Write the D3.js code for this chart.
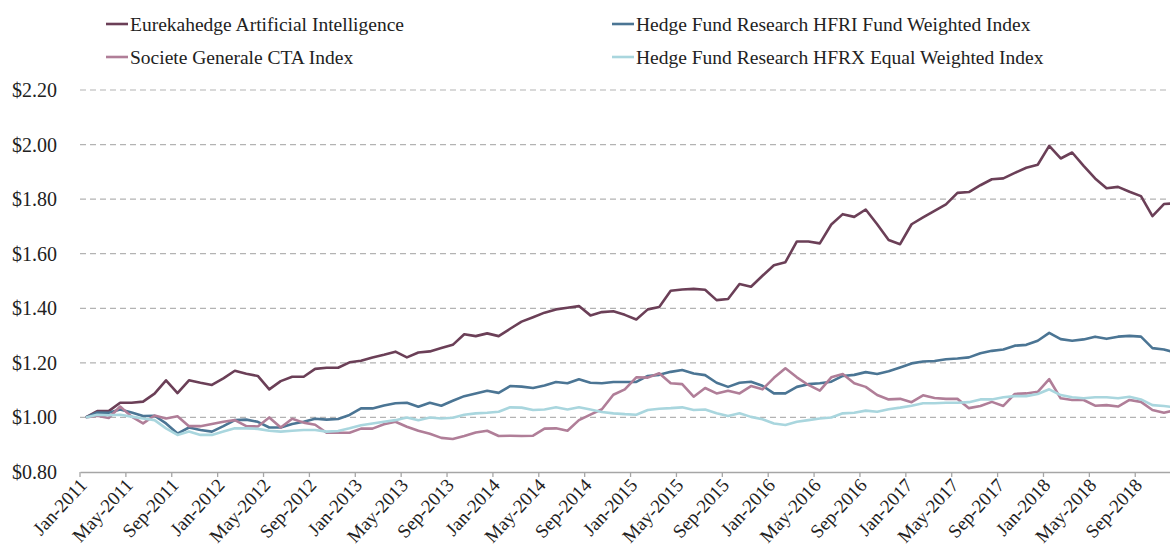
<!DOCTYPE html>
<html>
<head>
<meta charset="utf-8">
<script src="https://cdn.jsdelivr.net/npm/d3@7"></script>
<style>
  body { margin: 0; background: #fff; }
  text { font-family: "Liberation Serif", "DejaVu Serif", serif; fill: #222; }
</style>
</head>
<body>
<svg id="chart" width="1170" height="559"></svg>
<script>
// Monthly index values, Jan-2011 .. Dec-2018
const startMonth = new Date(2011, 0, 1);
const monthCount = 96;

const eurekahedge = [
  1.000, 1.023, 1.023, 1.054, 1.054, 1.058, 1.087, 1.136, 1.089, 1.136, 1.127, 1.119,
  1.143, 1.171, 1.160, 1.152, 1.103, 1.133, 1.149, 1.149, 1.178, 1.182, 1.182, 1.202,
  1.208, 1.220, 1.230, 1.241, 1.220, 1.238, 1.242, 1.254, 1.266, 1.305, 1.298, 1.308,
  1.298, 1.325, 1.351, 1.367, 1.384, 1.396, 1.402, 1.408, 1.374, 1.386, 1.389, 1.376,
  1.359, 1.396, 1.405, 1.464, 1.469, 1.471, 1.468, 1.430, 1.434, 1.489, 1.479, 1.519,
  1.558, 1.569, 1.645, 1.645, 1.638, 1.707, 1.745, 1.735, 1.762, 1.708, 1.650, 1.635,
  1.708, 1.733, 1.757, 1.781, 1.823, 1.826, 1.851, 1.873, 1.876, 1.896, 1.915, 1.926,
  1.995, 1.949, 1.971, 1.922, 1.876, 1.840, 1.845, 1.827, 1.811, 1.738, 1.782, 1.785
];

const hfriFundWeighted = [
  1.000, 1.018, 1.017, 1.029, 1.018, 1.005, 1.006, 0.978, 0.941, 0.963, 0.954, 0.948,
  0.968, 0.990, 0.992, 0.984, 0.963, 0.963, 0.976, 0.984, 0.995, 0.992, 0.994, 1.009,
  1.033, 1.033, 1.044, 1.052, 1.054, 1.039, 1.054, 1.043, 1.061, 1.078, 1.088, 1.098,
  1.090, 1.115, 1.113, 1.108, 1.117, 1.130, 1.125, 1.140, 1.127, 1.125, 1.130, 1.130,
  1.130, 1.152, 1.156, 1.167, 1.174, 1.161, 1.155, 1.127, 1.112, 1.127, 1.131, 1.116,
  1.088, 1.088, 1.112, 1.122, 1.125, 1.131, 1.152, 1.156, 1.166, 1.159, 1.169, 1.183,
  1.198, 1.205, 1.207, 1.213, 1.216, 1.220, 1.235, 1.244, 1.249, 1.263, 1.266, 1.281,
  1.310, 1.287, 1.281, 1.286, 1.296, 1.288, 1.296, 1.299, 1.296, 1.254, 1.249, 1.237
];

const socGenCta = [
  1.000, 1.006, 0.998, 1.040, 1.003, 0.978, 1.007, 0.996, 1.004, 0.968, 0.968, 0.976,
  0.984, 0.990, 0.968, 0.967, 1.000, 0.963, 0.995, 0.981, 0.973, 0.944, 0.944, 0.944,
  0.959, 0.959, 0.975, 0.984, 0.966, 0.951, 0.940, 0.925, 0.921, 0.932, 0.945, 0.951,
  0.932, 0.933, 0.932, 0.933, 0.959, 0.960, 0.951, 0.990, 1.010, 1.030, 1.083, 1.103,
  1.147, 1.146, 1.162, 1.125, 1.122, 1.076, 1.108, 1.088, 1.098, 1.088, 1.115, 1.103,
  1.145, 1.180, 1.147, 1.119, 1.098, 1.147, 1.159, 1.125, 1.112, 1.082, 1.066, 1.068,
  1.056, 1.081, 1.071, 1.068, 1.068, 1.034, 1.042, 1.057, 1.042, 1.086, 1.088, 1.094,
  1.140, 1.070, 1.064, 1.064, 1.043, 1.045, 1.040, 1.064, 1.057, 1.027, 1.017, 1.027
];

const hfrxEqualWeighted = [
  1.000, 1.010, 1.008, 1.010, 1.003, 0.996, 0.990, 0.960, 0.936, 0.948, 0.936, 0.936,
  0.948, 0.960, 0.960, 0.958, 0.951, 0.948, 0.951, 0.954, 0.954, 0.948, 0.950, 0.960,
  0.971, 0.978, 0.984, 0.990, 1.000, 0.990, 1.000, 0.996, 0.999, 1.010, 1.015, 1.017,
  1.021, 1.037, 1.036, 1.027, 1.029, 1.037, 1.029, 1.037, 1.029, 1.020, 1.015, 1.012,
  1.010, 1.027, 1.032, 1.034, 1.037, 1.027, 1.029, 1.015, 1.005, 1.015, 1.002, 0.993,
  0.978, 0.972, 0.984, 0.990, 0.996, 1.000, 1.015, 1.017, 1.025, 1.021, 1.030, 1.036,
  1.043, 1.052, 1.052, 1.054, 1.054, 1.056, 1.066, 1.066, 1.074, 1.078, 1.078, 1.086,
  1.103, 1.082, 1.074, 1.070, 1.074, 1.074, 1.070, 1.076, 1.066, 1.045, 1.042, 1.037
];

const seriesNames = [
  "Eurekahedge Artificial Intelligence",
  "Hedge Fund Research HFRI Fund Weighted Index",
  "Societe Generale CTA Index",
  "Hedge Fund Research HFRX Equal Weighted Index"
];
const seriesValues = [eurekahedge, hfriFundWeighted, socGenCta, hfrxEqualWeighted];
const seriesColors = ["#6b3f57", "#4b7594", "#b07e98", "#a9d6de"];

const yTicks = [0.8, 1.0, 1.2, 1.4, 1.6, 1.8, 2.0, 2.2];

const months = d3.range(monthCount).map(i => d3.timeMonth.offset(startMonth, i));

const svg = d3.select("#chart");
const margin = { top: 90, left: 80, bottom: 472 };
const step = 11.47;

// band scale: ticks on category boundaries, points on category centres
const x = d3.scaleBand()
    .domain(months)
    .range([margin.left, margin.left + step * monthCount]);

const y = d3.scaleLinear()
    .domain([0.8, 2.2])
    .range([margin.bottom, margin.top]);

// gridlines
svg.append("g")
    .selectAll("line")
    .data(yTicks.slice(1))
    .enter().append("line")
    .attr("x1", margin.left)
    .attr("x2", 1170)
    .attr("y1", d => y(d))
    .attr("y2", d => y(d))
    .attr("stroke", "#b3b3b3")
    .attr("stroke-width", 1.2)
    .attr("stroke-dasharray", "6,4");

// y axis labels
const fmt = d3.format("$.2f");
svg.append("g")
    .selectAll("text")
    .data(yTicks)
    .enter().append("text")
    .attr("x", 57)
    .attr("y", d => y(d))
    .attr("dy", "0.35em")
    .attr("text-anchor", "end")
    .style("font-size", "20px")
    .text(d => fmt(d));

// x axis
const tickMonths = months.filter((d, i) => i % 4 === 0);
const xAxis = d3.axisBottom(x)
    .tickValues(tickMonths)
    .tickSize(5)
    .tickSizeOuter(0)
    .tickFormat(d3.timeFormat("%b-%Y"));

const gx = svg.append("g")
    .attr("transform", `translate(0,${margin.bottom})`)
    .call(xAxis);

gx.select(".domain").attr("stroke", "#a6a6a6").attr("stroke-width", 1.3);
gx.selectAll(".tick")
    .attr("transform", d => `translate(${x(d)},0)`);
gx.selectAll(".tick line").attr("stroke", "#a6a6a6").attr("stroke-width", 1.3);
gx.selectAll(".tick text")
    .attr("fill", "#222")
    .style("font-size", "19px")
    .style("font-family", "'Liberation Serif', serif")
    .attr("text-anchor", "end")
    .attr("x", 0)
    .attr("y", 0)
    .attr("dy", 0)
    .attr("transform", "translate(8,14) rotate(-47)");

// lines
const line = d3.line()
    .x((d, i) => x(months[i]) + x.bandwidth() / 2)
    .y(d => y(d));

svg.append("g")
    .selectAll("path")
    .data(seriesValues)
    .enter().append("path")
    .attr("d", d => line(d))
    .attr("fill", "none")
    .attr("stroke", (d, i) => seriesColors[i])
    .attr("stroke-width", 2.6)
    .attr("stroke-linejoin", "round");

// legend (two columns)
const legendPos = [
  { x: 106, y: 24 }, { x: 612, y: 24 },
  { x: 106, y: 57 }, { x: 612, y: 57 }
];
const legend = svg.append("g")
    .selectAll("g")
    .data(seriesNames)
    .enter().append("g")
    .attr("transform", (d, i) => `translate(${legendPos[i].x},${legendPos[i].y})`);

legend.append("line")
    .attr("x1", 0)
    .attr("x2", 22)
    .attr("stroke", (d, i) => seriesColors[i])
    .attr("stroke-width", 2.6);

legend.append("text")
    .attr("x", 24)
    .attr("dy", "0.35em")
    .style("font-size", "19.5px")
    .text(d => d);
</script>
</body>
</html>
